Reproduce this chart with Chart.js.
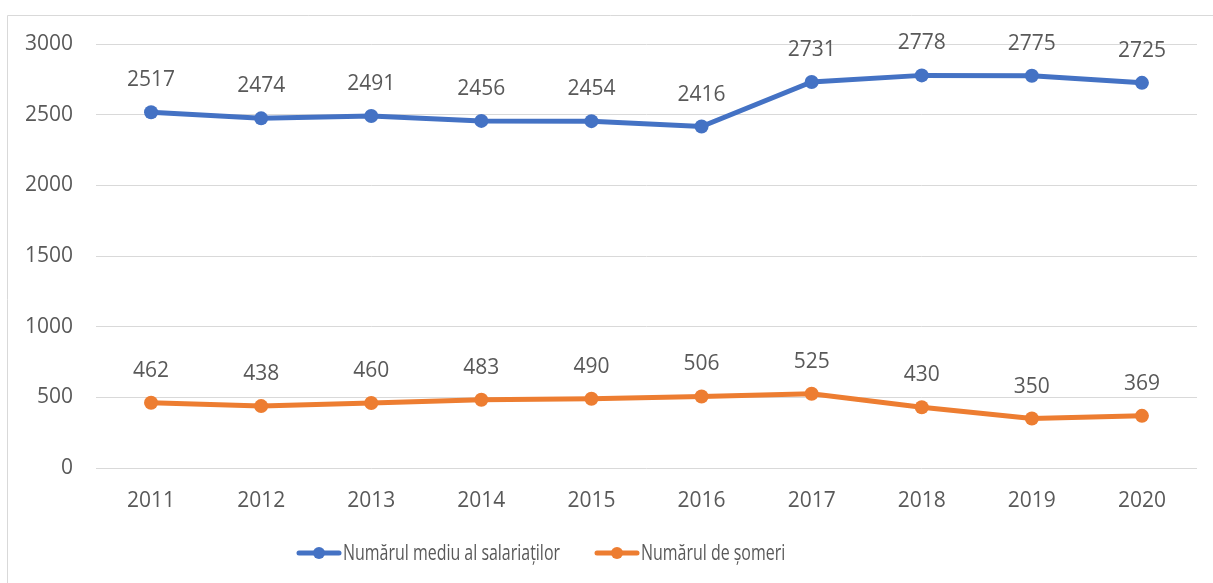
<!DOCTYPE html>
<html><head><meta charset="utf-8">
<script src="https://cdn.jsdelivr.net/npm/chart.js@4.4.1/dist/chart.umd.min.js"></script>
<style>html,body{margin:0;padding:0;background:#fff}#wrap{width:1213px;height:583px;position:relative}</style>
</head><body><div id="wrap"><canvas id="c" width="1213" height="583"></canvas></div>
<script>
const years = ['2011','2012','2013','2014','2015','2016','2017','2018','2019','2020'];
const salariati = [2517,2474,2491,2456,2454,2416,2731,2778,2775,2725];
const someri = [462,438,460,483,490,506,525,430,350,369];
const seriesNames = ['Numărul mediu al salariaților','Numărul de șomeri'];
const seriesColors = ['#4472C4','#ED7D31'];
const yTicks = [0,500,1000,1500,2000,2500,3000];

const FONT = '"Open Sans", sans-serif';
const TXT = '#595959';

const framePlugin = {
  id:'frame',
  beforeDraw(chart){
    const ctx = chart.ctx;
    ctx.save();
    ctx.strokeStyle = '#d9d9d9'; ctx.lineWidth = 1;
    ctx.beginPath();
    ctx.moveTo(7.5, 583); ctx.lineTo(7.5, 15.5); ctx.lineTo(1213, 15.5);
    ctx.stroke();
    ctx.restore();
  }
};
const labelPlugin = {
  id:'dlabels',
  afterDatasetsDraw(chart){
    const ctx = chart.ctx;
    ctx.save();
    ctx.font = '21px ' + FONT;
    ctx.fillStyle = TXT;
    ctx.textAlign = 'center';
    ctx.textBaseline = 'middle';
    chart.data.datasets.forEach((ds, i) => {
      const meta = chart.getDatasetMeta(i);
      meta.data.forEach((pt, j) => {
        ctx.fillText(String(ds.data[j]), pt.x, pt.y - 32);
      });
    });
    ctx.restore();
  }
};
const legendPlugin = {
  id:'clegend',
  afterDraw(chart){
    const ctx = chart.ctx;
    ctx.save();
    ctx.font = '22px ' + FONT;
    ctx.textBaseline = 'middle';
    const sym = 44, gap = 2, between = 35;
    const w0 = ctx.measureText(chart.data.datasets[0].label).width;
    const sx = 217 / w0;
    const items = chart.data.datasets.map(ds => ({label: ds.label, color: ds.borderColor, tw: ctx.measureText(ds.label).width * sx}));
    let x = 297;
    const y = 553;
    items.forEach(it => {
      ctx.strokeStyle = it.color; ctx.lineWidth = 5; ctx.lineCap = 'round';
      ctx.beginPath(); ctx.moveTo(x+2, y); ctx.lineTo(x+sym-2, y); ctx.stroke();
      ctx.fillStyle = it.color;
      ctx.beginPath(); ctx.arc(x+sym/2, y, 6, 0, Math.PI*2); ctx.fill();
      ctx.fillStyle = TXT; ctx.textAlign = 'left';
      ctx.save();
      ctx.translate(x+sym+gap, y+1);
      ctx.scale(sx, 1);
      ctx.fillText(it.label, 0, 0);
      ctx.restore();
      x += sym + gap + it.tw + between;
    });
    ctx.restore();
  }
};

new Chart(document.getElementById('c'), {
  type:'line',
  data:{
    labels: years,
    datasets:[
      {label: seriesNames[0], data: salariati, borderColor: seriesColors[0], backgroundColor: seriesColors[0], borderWidth:5, pointRadius:7, pointHoverRadius:7, pointBorderWidth:0, tension:0},
      {label: seriesNames[1], data: someri, borderColor: seriesColors[1], backgroundColor: seriesColors[1], borderWidth:5, pointRadius:7, pointHoverRadius:7, pointBorderWidth:0, tension:0}
    ]
  },
  options:{
    responsive:false, animation:false, devicePixelRatio:1,
    layout:{padding:{left:0,right:16,top:44,bottom:0}},
    plugins:{legend:{display:false}, tooltip:{enabled:false}},
    scales:{
      x:{
        offset:true,
        grid:{display:false}, border:{display:false},
        ticks:{color:TXT, font:{family:FONT, size:21}, padding:12, maxRotation:0},
        afterFit(s){ s.height = 115; }
      },
      y:{
        min:0, max:3000,
        afterBuildTicks(s){ s.ticks = yTicks.map(v=>({value:v})); },
        grid:{color:'#d9d9d9', lineWidth:1, drawTicks:false},
        border:{display:false},
        ticks:{color:TXT, font:{family:FONT, size:21}, padding:23, callback:(v)=>String(v)},
        afterFit(s){ s.width = 96; }
      }
    }
  },
  plugins:[framePlugin, labelPlugin, legendPlugin]
});
</script></body></html>
